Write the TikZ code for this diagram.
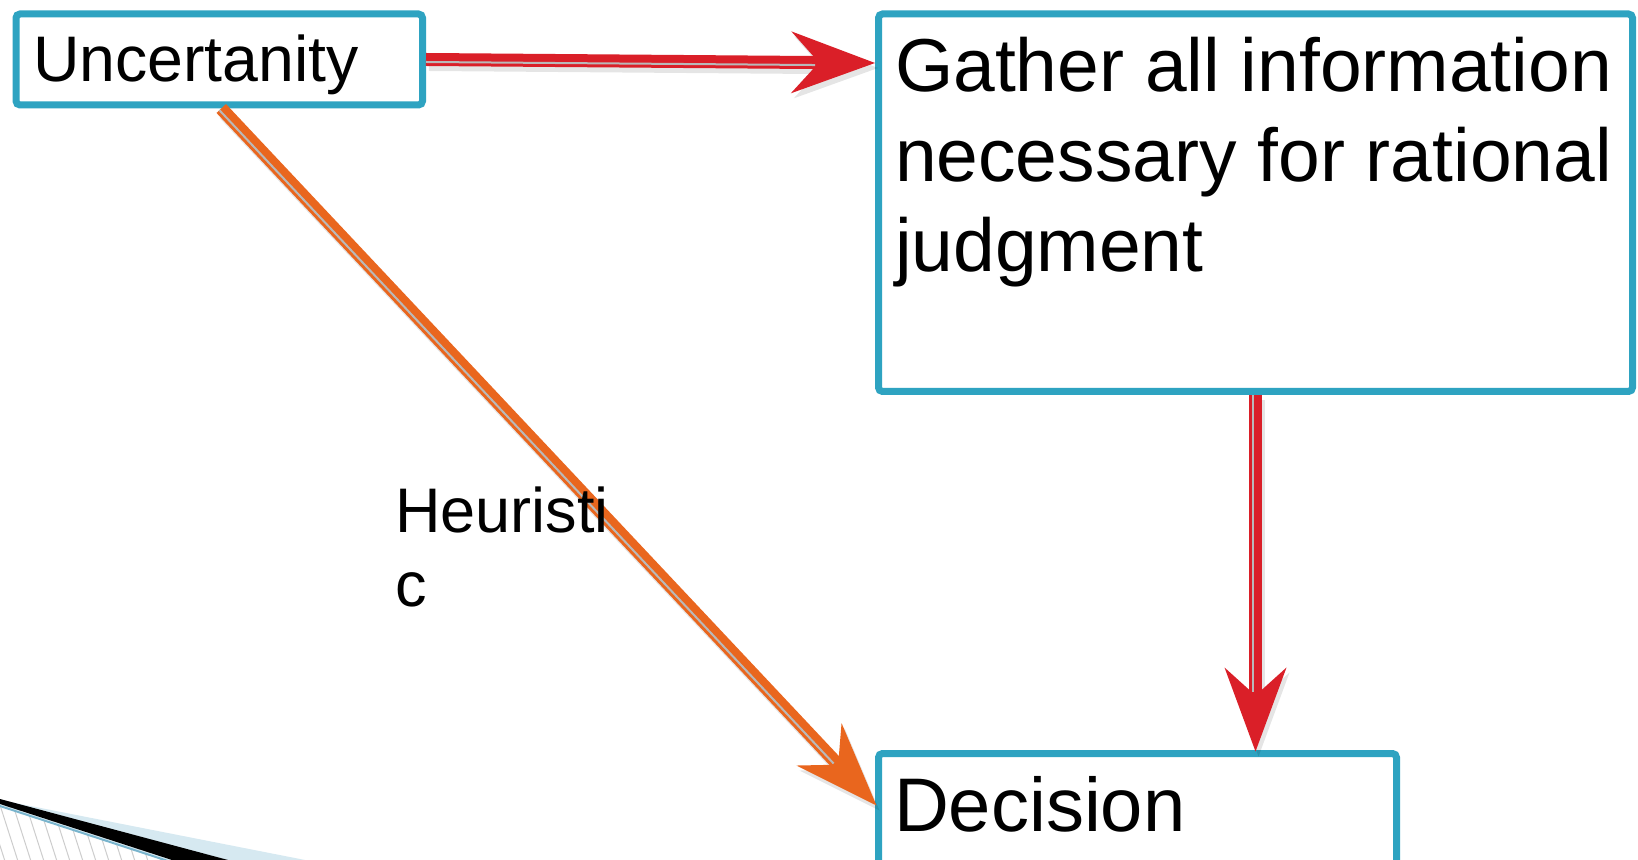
\documentclass[tikz,border=0pt]{standalone}
\usepackage{fontspec}
\setmainfont{Liberation Sans}
\usetikzlibrary{arrows.meta,calc}
\definecolor{boxblue}{RGB}{46,163,193}
\definecolor{arrred}{RGB}{218,31,40}
\definecolor{arrorange}{RGB}{233,102,30}
\definecolor{gapgray}{RGB}{185,185,185}
\definecolor{decoblue}{RGB}{214,233,241}
\definecolor{decoline}{RGB}{120,180,205}
\definecolor{hatchgray}{RGB}{205,205,205}
\begin{document}
\begin{tikzpicture}[x=0.5pt,y=-0.5pt,
  box/.style={draw=boxblue, line width=3.5pt, rounded corners=2pt, fill=white, inner sep=0pt, outer sep=0pt},
  lbl/.style={inner sep=0pt, outer sep=0pt, anchor=base west, text=black},
  conn/.style={line width=6.5pt, -{Stealth[length=42pt, width=31pt, inset=14pt, line width=0pt]}},
  connshadow/.style={conn, draw=black, fill=black, opacity=0.1, transform canvas={shift={(1.5pt,-2.5pt)}}},
  gapline/.style={draw=gapgray, line width=1pt, shorten >=30pt}
]
\clip (0,0) rectangle (1638,860);
\fill[white] (0,0) rectangle (1638,860);

% decoration bottom left
\fill[decoblue] (0,800) -- (305,860) -- (0,860) -- cycle;
\fill[white] (0,805) -- (168,860) -- (0,860) -- cycle;
\begin{scope}
  \clip (0,805) -- (168,860) -- (0,860) -- cycle;
  \foreach \i in {-60,-47,...,200} \draw[hatchgray, line width=0.5pt] (\i,780) -- (\i+32,880);
\end{scope}
\draw[decoline, line width=1pt] (0,806) -- (168,861);
\fill[black] (0,799) -- (228,860) -- (172,860) -- (0,804) -- cycle;

% boxes
\node[box, minimum width=203.25pt, minimum height=45.5pt] (unc) at (219.25,59.5) {};
\node[box, minimum width=377pt, minimum height=188.75pt] (gather) at (1255.5,202.75) {};
\node[box, minimum width=259pt, minimum height=73.25pt] (dec) at (1137.5,826.75) {};

% connectors
\coordinate (hs) at ($(unc.east)+(3.5,0)$);
\coordinate (he) at ($(gather.north west)+(-3.5,49)$);
\coordinate (vs) at ($(gather.south)+(0,3.5)$);
\coordinate (ve) at ($(gather.south |- dec.north)+(0,-2)$);
\coordinate (ds) at ($(unc.south)+(2,3.5)$);
\coordinate (de) at ($(dec.north west)+(-2,52)$);

\draw[connshadow] (hs) -- (he);
\draw[connshadow] (vs) -- (ve);
\draw[connshadow] (ds) -- (de);

\draw[conn, draw=arrred, fill=arrred] (hs) -- (he);
\draw[gapline] ($(hs)+(0,2.5)$) -- ($(he)+(0,2.5)$);
\draw[conn, draw=arrred, fill=arrred] (vs) -- (ve);
\draw[gapline] ($(vs)+(-2.5,0)$) -- ($(ve)+(-2.5,0)$);
\draw[conn, draw=arrorange, fill=arrorange] (ds) -- (de);
\draw[gapline] ($(ds)+(-1.82,1.71)$) -- ($(de)+(-1.82,1.71)$);

% texts
\node[lbl, font=\fontsize{32.2pt}{36pt}\selectfont] (utext) at (33,81.5) {Uncertanity};
\node[lbl, align=left, font=\fontsize{37.5pt}{45pt}\selectfont] (gtext) at (895,272) {Gather all information\\necessary for rational\\judgment};
\node[lbl, font=\fontsize{38pt}{45pt}\selectfont] (dtext) at (894,831.5) {Decision};
\node[lbl, align=left, font=\fontsize{31.5pt}{36.5pt}\selectfont] (htext) at (395,606) {Heuristi\\c};
\end{tikzpicture}
\end{document}
